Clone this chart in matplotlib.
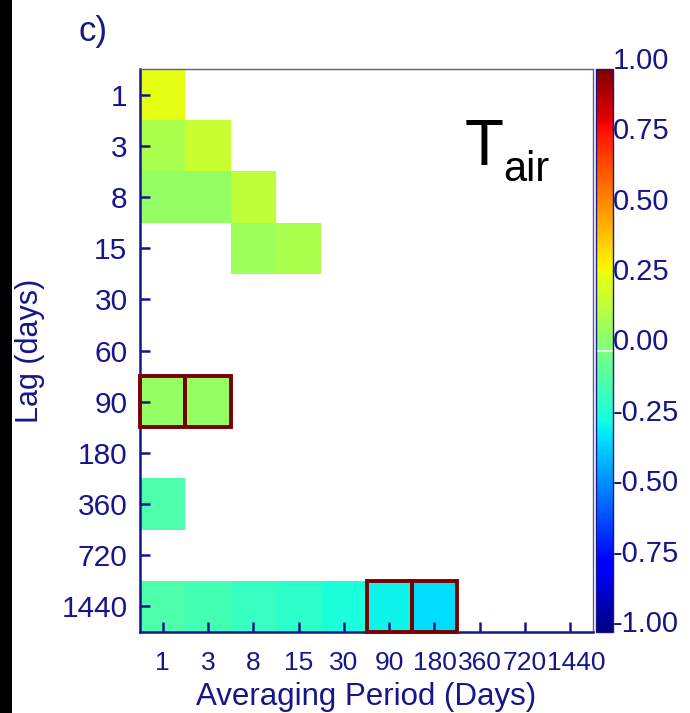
import numpy as np
import matplotlib
matplotlib.use("Agg")
import matplotlib.pyplot as plt
import matplotlib.transforms as mtransforms
from matplotlib.patches import Rectangle

# ---- data ----
periods = ["1", "3", "8", "15", "30", "90", "180", "360", "720", "1440"]
lags = ["1", "3", "8", "15", "30", "60", "90", "180", "360", "720", "1440"]
nan = np.nan
row_1    = [0.25, nan, nan, nan, nan, nan, nan, nan, nan, nan]
row_3    = [0.11, 0.18, nan, nan, nan, nan, nan, nan, nan, nan]
row_8    = [0.06, 0.06, 0.16, nan, nan, nan, nan, nan, nan, nan]
row_15   = [nan, nan, 0.08, 0.11, nan, nan, nan, nan, nan, nan]
row_30   = [nan] * 10
row_60   = [nan] * 10
row_90   = [0.06, 0.06, nan, nan, nan, nan, nan, nan, nan, nan]
row_180  = [nan] * 10
row_360  = [-0.11, nan, nan, nan, nan, nan, nan, nan, nan, nan]
row_720  = [nan] * 10
row_1440 = [-0.11, -0.14, -0.17, -0.19, -0.23, -0.27, -0.32, nan, nan, nan]
# significant cells (lag label, period label)
significant = [("90", "1"), ("90", "3"), ("1440", "90"), ("1440", "180")]
cbar_ticks = [-1.0, -0.75, -0.5, -0.25, 0.0, 0.25, 0.5, 0.75, 1.0]

rows = [row_1, row_3, row_8, row_15, row_30, row_60, row_90, row_180,
        row_360, row_720, row_1440]
Z = np.ma.masked_invalid(np.array(rows, dtype=float))

navy = "#16168a"
plt.rcParams['font.family'] = ['Liberation Sans', 'DejaVu Sans']

W, H = 690, 713
fig = plt.figure(figsize=(W / 100, H / 100), dpi=100)
fig.patches.append(Rectangle((0, 0), 12 / W, 1, transform=fig.transFigure,
                             facecolor="black", edgecolor="none", zorder=0))

ax = fig.add_axes([140 / W, 1 - 632 / H, 453 / W, 563 / H])
x_edges = np.arange(len(periods) + 1) - 0.5
y_edges = np.arange(len(lags) + 1) - 0.5
mesh = ax.pcolormesh(x_edges, y_edges, Z, cmap="jet", vmin=-1, vmax=1)
ax.set_xlim(-0.5, len(periods) - 0.5)
ax.set_ylim(len(lags) - 0.5, -0.5)

for lag, per in significant:
    r = lags.index(lag)
    c = periods.index(per)
    ax.add_patch(Rectangle((c - 0.5, r - 0.5), 1, 1, fill=False,
                           edgecolor="#7a0000", linewidth=2.8, zorder=5,
                           clip_on=False))

ax.set_xticks(np.arange(len(periods)))
ax.set_xticklabels(periods)
ax.set_yticks(np.arange(len(lags)))
ax.set_yticklabels(lags)
ax.tick_params(axis="both", direction="in", length=7, width=1.8, color=navy,
               labelcolor=navy)
ax.tick_params(axis="y", labelsize=21.5, pad=9)
ax.tick_params(axis="x", labelsize=19, pad=14)
ax.tick_params(top=False, right=False)
# last x label sits slightly right in the reference
last = ax.get_xticklabels()[-1]
last.set_transform(last.get_transform() +
                   mtransforms.ScaledTranslation(6 / 100, 0, fig.dpi_scale_trans))
for s in ["left", "bottom"]:
    ax.spines[s].set_color(navy)
    ax.spines[s].set_linewidth(1.8)
for s in ["top", "right"]:
    ax.spines[s].set_color("#5a5aa8")
    ax.spines[s].set_linewidth(1.0)

ax.set_xlabel("Averaging Period (Days)", fontsize=22.5, color=navy, labelpad=5)
ax.set_ylabel("Lag (days)", fontsize=22, color=navy, labelpad=12)

ax.text((465 - 140) / 453, (632 - 165) / 563, "T", transform=ax.transAxes,
        fontsize=46, color="black", ha="left", va="baseline")
ax.text((503 - 140) / 453, (632 - 181) / 563, "air", transform=ax.transAxes,
        fontsize=30, color="black", ha="left", va="baseline")

fig.text(78 / W, 1 - 31 / H, "c)", fontsize=25, color=navy,
         ha="left", va="center")

cax = fig.add_axes([596 / W, 1 - 632 / H, 17 / W, 563 / H])
cb = fig.colorbar(mesh, cax=cax, ticks=cbar_ticks)
cb.ax.set_yticklabels(["%.2f" % v for v in cbar_ticks])
cb.ax.tick_params(length=0, pad=0, labelsize=21, labelcolor=navy)
for lbl in cb.ax.get_yticklabels():
    lbl.set_verticalalignment("baseline")
cb.outline.set_edgecolor(navy)
cb.outline.set_linewidth(1.0)
cax.axhline(0, color="white", linewidth=1.2)

fig.savefig("out.png", dpi=100)
